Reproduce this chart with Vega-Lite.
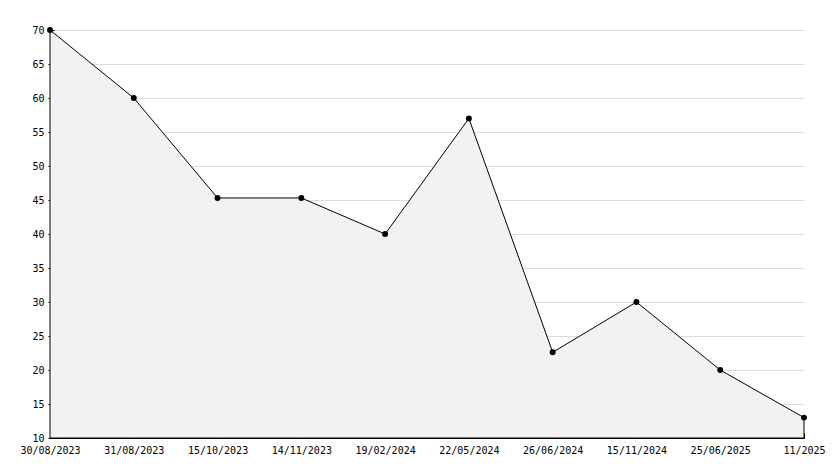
{
  "$schema": "https://vega.github.io/schema/vega-lite/v6.json",
  "width": 754,
  "height": 408,
  "autosize": {"type": "none"},
  "padding": {"left": 50, "top": 30, "right": 30, "bottom": 30},
  "background": "white",
  "config": {
    "view": {"stroke": null},
    "axis": {"labelFont": "DejaVu Sans Mono", "labelFontSize": 10, "labelColor": "black", "domainColor": "black", "tickColor": "black", "zindex": 1, "labelOverlap": false, "labelBound": false}
  },
  "data": {
    "values": [
      {"date": "30/08/2023", "value": 70},
      {"date": "31/08/2023", "value": 60},
      {"date": "15/10/2023", "value": 45.3},
      {"date": "14/11/2023", "value": 45.3},
      {"date": "19/02/2024", "value": 40},
      {"date": "22/05/2024", "value": 57},
      {"date": "26/06/2024", "value": 22.6},
      {"date": "15/11/2024", "value": 30},
      {"date": "25/06/2025", "value": 20},
      {"date": "11/2025", "value": 13}
    ]
  },
  "resolve": {"axis": {"x": "independent", "y": "independent"}},
  "layer": [
    {
      "mark": {"type": "area", "color": "#f2f2f2", "stroke": "black", "strokeWidth": 1},
      "encoding": {
        "x": {
          "field": "date", "type": "ordinal", "sort": null,
          "scale": {"type": "point", "padding": 0},
          "axis": {"title": null, "orient": "bottom", "labelAngle": 0, "ticks": false, "labelPadding": 7, "grid": false}
        },
        "y": {
          "field": "value", "type": "quantitative",
          "scale": {"domain": [10, 70], "nice": false, "zero": false},
          "axis": {
            "title": null, "orient": "left",
            "values": [10, 15, 20, 25, 30, 35, 40, 45, 50, 55, 60, 65, 70],
            "tickSize": 2,
            "labelPadding": 4,
            "grid": true,
            "gridColor": "#dddddd",
            "gridOpacity": {"condition": {"test": "datum.value > 10", "value": 1}, "value": 0}
          }
        },
        "y2": {"datum": 10}
      }
    },
    {
      "mark": {"type": "point", "filled": true, "color": "black", "size": 35, "shape": "circle", "opacity": 1},
      "encoding": {
        "x": {
          "field": "date", "type": "ordinal", "sort": null,
          "axis": {"title": null, "orient": "bottom", "labels": false, "domain": false, "tickSize": 5, "offset": -5, "grid": false}
        },
        "y": {
          "field": "value", "type": "quantitative",
          "axis": {
            "title": null, "orient": "left", "labels": false, "domain": false, "grid": false,
            "values": [10,11,12,13,14,15,16,17,18,19,20,21,22,23,24,25,26,27,28,29,30,31,32,33,34,35,36,37,38,39,40,41,42,43,44,45,46,47,48,49,50,51,52,53,54,55,56,57,58,59,60,61,62,63,64,65,66,67,68,69,70],
            "tickSize": 4,
            "offset": -4
          }
        }
      }
    }
  ]
}
